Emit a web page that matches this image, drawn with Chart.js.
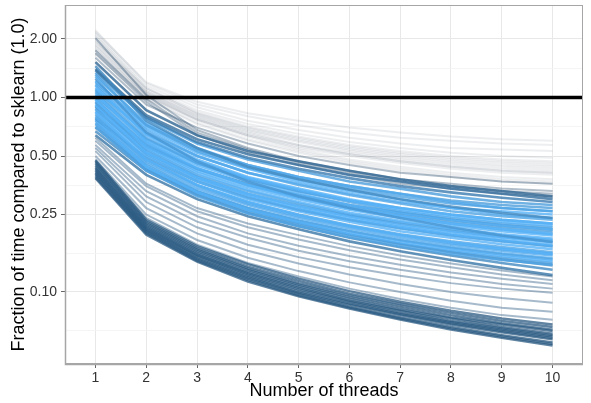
<!DOCTYPE html>
<html>
<head>
<meta charset="utf-8">
<script src="https://cdn.jsdelivr.net/npm/chart.js@4.4.1/dist/chart.umd.min.js"></script>
<style>
  html, body { margin: 0; padding: 0; background: #fff; }
</style>
</head>
<body>
<canvas id="timing" width="591" height="403"></canvas>
<script>
// x: number of threads, y: run time as a fraction of sklearn's time
const threads = [1, 2, 3, 4, 5, 6, 7, 8, 9, 10];
const xLimits = [0.4, 10.6];
const yLimits = [0.0426, 2.99];
const yMajor = [0.10, 0.25, 0.50, 1.00, 2.00];
const yMinor = [0.063, 0.158, 0.354, 0.707, 1.414];
const reference = 1.0;

// slow configurations (faint grey)
const greyRuns = [
  [2.22, 1.18, 0.92, 0.80, 0.72, 0.66, 0.62, 0.60, 0.58, 0.57],
  [2.18, 1.20, 0.95, 0.83, 0.76, 0.70, 0.66, 0.63, 0.61, 0.60],
  [2.15, 1.15, 0.89, 0.76, 0.68, 0.62, 0.58, 0.55, 0.54, 0.53],
  [2.10, 1.12, 0.86, 0.73, 0.65, 0.59, 0.55, 0.52, 0.50, 0.49],
  [2.06, 1.10, 0.84, 0.71, 0.63, 0.57, 0.53, 0.50, 0.48, 0.47],
  [2.02, 1.08, 0.82, 0.69, 0.61, 0.55, 0.51, 0.48, 0.46, 0.45],
  [1.98, 1.06, 0.80, 0.67, 0.59, 0.53, 0.49, 0.46, 0.44, 0.43],
  [1.95, 1.05, 0.79, 0.66, 0.57, 0.51, 0.47, 0.44, 0.42, 0.41],
  [1.92, 1.12, 0.83, 0.70, 0.62, 0.56, 0.52, 0.49, 0.47, 0.46],
  [1.88, 1.03, 0.77, 0.64, 0.55, 0.50, 0.46, 0.43, 0.41, 0.40],
  [1.85, 1.07, 0.81, 0.68, 0.60, 0.54, 0.50, 0.47, 0.45, 0.44],
  [1.82, 1.01, 0.76, 0.63, 0.54, 0.48, 0.44, 0.41, 0.39, 0.38],
  [1.78, 1.04, 0.78, 0.65, 0.57, 0.52, 0.48, 0.45, 0.43, 0.42],
  [1.74, 0.99, 0.74, 0.61, 0.53, 0.47, 0.43, 0.40, 0.38, 0.37],
  [1.70, 1.02, 0.77, 0.64, 0.56, 0.51, 0.47, 0.44, 0.42, 0.41],
  [1.66, 0.98, 0.73, 0.60, 0.52, 0.46, 0.42, 0.39, 0.37, 0.36]
];
const greyRunsDark = [
  [2.02, 1.03, 0.68, 0.55, 0.47, 0.42, 0.38, 0.36, 0.34, 0.33],
  [1.75, 0.98, 0.66, 0.54, 0.46, 0.41, 0.37, 0.35, 0.33, 0.32],
  [1.69, 0.95, 0.64, 0.52, 0.45, 0.40, 0.36, 0.34, 0.32, 0.31],
  [1.60, 0.92, 0.70, 0.58, 0.50, 0.45, 0.41, 0.39, 0.37, 0.36]
];

// main band (blue), with the mapped shade of each run
const blueRuns = [
  [1.52, 0.86, 0.64, 0.53, 0.47, 0.42, 0.38, 0.35, 0.33, 0.31],
  [1.45, 0.76, 0.55, 0.44, 0.38, 0.335, 0.30, 0.275, 0.255, 0.24],
  [1.40, 0.81, 0.61, 0.51, 0.45, 0.40, 0.37, 0.34, 0.32, 0.30],
  [1.38, 0.79, 0.59, 0.49, 0.43, 0.385, 0.35, 0.325, 0.305, 0.29],
  [1.34, 0.78, 0.58, 0.48, 0.42, 0.37, 0.34, 0.31, 0.29, 0.28],
  [1.31, 0.72, 0.53, 0.435, 0.38, 0.34, 0.31, 0.285, 0.27, 0.26],
  [1.28, 0.74, 0.55, 0.45, 0.39, 0.35, 0.32, 0.29, 0.27, 0.26],
  [1.25, 0.66, 0.47, 0.37, 0.31, 0.27, 0.24, 0.215, 0.195, 0.18],
  [1.22, 0.70, 0.52, 0.43, 0.37, 0.33, 0.30, 0.27, 0.26, 0.25],
  [1.20, 0.72, 0.54, 0.45, 0.39, 0.35, 0.32, 0.295, 0.28, 0.27],
  [1.17, 0.68, 0.50, 0.41, 0.36, 0.32, 0.29, 0.27, 0.25, 0.24],
  [1.15, 0.64, 0.47, 0.385, 0.335, 0.295, 0.265, 0.245, 0.23, 0.22],
  [1.12, 0.65, 0.48, 0.39, 0.34, 0.30, 0.27, 0.25, 0.235, 0.225],
  [1.10, 0.66, 0.50, 0.41, 0.355, 0.315, 0.285, 0.26, 0.245, 0.235],
  [1.08, 0.62, 0.46, 0.38, 0.33, 0.29, 0.26, 0.24, 0.225, 0.215],
  [1.06, 0.59, 0.435, 0.355, 0.305, 0.27, 0.245, 0.225, 0.21, 0.198],
  [1.04, 0.60, 0.45, 0.37, 0.32, 0.28, 0.255, 0.235, 0.22, 0.21],
  [1.02, 0.61, 0.46, 0.38, 0.33, 0.295, 0.27, 0.25, 0.235, 0.225],
  [1.00, 0.58, 0.43, 0.355, 0.31, 0.27, 0.245, 0.225, 0.21, 0.20],
  [0.98, 0.55, 0.41, 0.335, 0.29, 0.255, 0.232, 0.213, 0.198, 0.188],
  [0.97, 0.56, 0.42, 0.345, 0.30, 0.265, 0.24, 0.22, 0.205, 0.195],
  [0.95, 0.57, 0.43, 0.355, 0.31, 0.275, 0.25, 0.23, 0.215, 0.205],
  [0.94, 0.54, 0.40, 0.33, 0.285, 0.25, 0.228, 0.21, 0.195, 0.185],
  [0.92, 0.52, 0.385, 0.315, 0.27, 0.24, 0.216, 0.198, 0.185, 0.175],
  [0.91, 0.53, 0.39, 0.32, 0.275, 0.245, 0.22, 0.203, 0.19, 0.18],
  [0.90, 0.56, 0.43, 0.36, 0.315, 0.28, 0.255, 0.235, 0.22, 0.21],
  [0.88, 0.51, 0.38, 0.31, 0.265, 0.235, 0.212, 0.195, 0.182, 0.172],
  [0.87, 0.52, 0.39, 0.32, 0.278, 0.247, 0.224, 0.206, 0.192, 0.182],
  [0.85, 0.50, 0.37, 0.30, 0.26, 0.23, 0.205, 0.19, 0.176, 0.166],
  [0.84, 0.48, 0.355, 0.29, 0.248, 0.218, 0.196, 0.18, 0.167, 0.157],
  [0.82, 0.48, 0.355, 0.29, 0.25, 0.22, 0.198, 0.182, 0.17, 0.16],
  [0.80, 0.47, 0.35, 0.285, 0.245, 0.217, 0.195, 0.178, 0.166, 0.157],
  [0.79, 0.46, 0.34, 0.28, 0.24, 0.212, 0.19, 0.175, 0.163, 0.154],
  [0.78, 0.49, 0.37, 0.305, 0.265, 0.235, 0.213, 0.196, 0.183, 0.172],
  [0.77, 0.44, 0.325, 0.265, 0.228, 0.20, 0.18, 0.165, 0.153, 0.144],
  [0.76, 0.45, 0.33, 0.27, 0.232, 0.205, 0.184, 0.168, 0.156, 0.147],
  [0.74, 0.44, 0.33, 0.27, 0.233, 0.206, 0.185, 0.17, 0.158, 0.149],
  [0.73, 0.43, 0.32, 0.26, 0.224, 0.197, 0.177, 0.162, 0.15, 0.141],
  [0.71, 0.42, 0.31, 0.253, 0.218, 0.192, 0.172, 0.157, 0.146, 0.138],
  [0.70, 0.43, 0.325, 0.265, 0.226, 0.198, 0.177, 0.16, 0.147, 0.137],
  [0.67, 0.42, 0.315, 0.255, 0.218, 0.19, 0.17, 0.154, 0.141, 0.13],
  [0.64, 0.40, 0.30, 0.245, 0.21, 0.182, 0.162, 0.146, 0.133, 0.122]
];
const blueShade = [0.45, 0.7, 0.5, 0.6, 0.85, 0.9, 0.95, 0.8, 1.0, 0.85, 0.95, 1.0,
  1.0, 0.9, 0.9, 1.0, 1.0, 0.9, 0.95, 1.0, 1.0, 0.85, 0.9, 1.0, 1.0, 0.7,
  0.95, 0.9, 1.0, 1.0, 0.9, 0.95, 0.95, 0.75, 1.0, 0.9, 0.95, 0.85, 0.9,
  0.75, 0.7, 0.55];

// runs between the two bands (grey-blue)
const lowRuns = [
  [0.62, 0.36, 0.27, 0.225, 0.196, 0.172, 0.154, 0.14, 0.129, 0.12],
  [0.60, 0.35, 0.26, 0.215, 0.186, 0.164, 0.147, 0.134, 0.123, 0.115],
  [0.57, 0.33, 0.245, 0.20, 0.173, 0.153, 0.138, 0.126, 0.117, 0.11],
  [0.55, 0.31, 0.23, 0.19, 0.163, 0.144, 0.13, 0.119, 0.11, 0.104],
  [0.53, 0.29, 0.215, 0.175, 0.151, 0.134, 0.121, 0.111, 0.104, 0.099],
  [0.50, 0.27, 0.20, 0.163, 0.14, 0.123, 0.11, 0.10, 0.093, 0.088],
  [0.48, 0.25, 0.185, 0.15, 0.128, 0.112, 0.10, 0.09, 0.083, 0.079],
  [0.47, 0.24, 0.175, 0.141, 0.12, 0.104, 0.092, 0.083, 0.076, 0.072]
];

// fastest configurations (dark band)
const darkRuns = [
  [0.475, 0.235, 0.172, 0.139, 0.117, 0.101, 0.089, 0.08, 0.073, 0.068],
  [0.465, 0.23, 0.168, 0.135, 0.114, 0.098, 0.087, 0.078, 0.071, 0.066],
  [0.455, 0.226, 0.165, 0.132, 0.111, 0.096, 0.085, 0.076, 0.069, 0.064],
  [0.445, 0.222, 0.162, 0.13, 0.109, 0.094, 0.083, 0.074, 0.068, 0.063],
  [0.435, 0.218, 0.159, 0.127, 0.107, 0.092, 0.081, 0.073, 0.066, 0.061],
  [0.428, 0.215, 0.156, 0.125, 0.105, 0.09, 0.08, 0.071, 0.065, 0.06],
  [0.42, 0.212, 0.154, 0.123, 0.103, 0.089, 0.078, 0.07, 0.064, 0.059],
  [0.412, 0.209, 0.152, 0.121, 0.101, 0.087, 0.077, 0.069, 0.063, 0.058],
  [0.405, 0.206, 0.149, 0.119, 0.099, 0.086, 0.076, 0.068, 0.062, 0.057],
  [0.398, 0.203, 0.147, 0.117, 0.098, 0.084, 0.074, 0.066, 0.06, 0.055],
  [0.39, 0.20, 0.145, 0.115, 0.096, 0.083, 0.073, 0.065, 0.059, 0.054],
  [0.384, 0.197, 0.143, 0.113, 0.095, 0.082, 0.072, 0.064, 0.058, 0.053]
];

// ggplot-like gradient #132B43 -> #56B1F7
function shade(t, a) {
  const lo = [19, 43, 67], hi = [86, 177, 247];
  const c = lo.map((v, i) => Math.round(v + (hi[i] - v) * t));
  return `rgba(${c[0]},${c[1]},${c[2]},${a})`;
}

const toSet = (run, color, width) => ({
  data: run.map((y, i) => ({ x: threads[i], y })),
  borderColor: color, borderWidth: width,
  pointRadius: 0, tension: 0, fill: false
});

const datasets = [
  { data: xLimits.map(x => ({ x, y: reference })), borderColor: '#000', borderWidth: 3.5,
    pointRadius: 0, fill: false },
  ...darkRuns.map(r => toSet(r, shade(0.35, 0.75), 2.4)),
  ...lowRuns.map(r => toSet(r, shade(0.35, 0.42), 2)),
  ...blueRuns.map((r, i) => toSet(r, shade(blueShade[i], 0.8), 2.6)),
  ...greyRunsDark.map(r => toSet(r, shade(0.2, 0.35), 2)),
  ...greyRuns.map(r => toSet(r, shade(0, 0.08), 2))
];

const panelBorder = {
  id: 'panelBorder',
  afterDraw(chart) {
    const { ctx, chartArea: a } = chart;
    ctx.save();
    ctx.strokeStyle = '#a6a6a6';
    ctx.lineWidth = 1;
    ctx.strokeRect(a.left + 0.5, a.top + 0.5, a.right - a.left - 1, a.bottom - a.top - 1);
    ctx.lineWidth = 1.5;
    ctx.beginPath();
    ctx.moveTo(a.left + 0.5, a.top);
    ctx.lineTo(a.left + 0.5, a.bottom + 0.5);
    ctx.lineTo(a.right, a.bottom + 0.5);
    ctx.stroke();
    ctx.restore();
  }
};

const tickFont = { family: '"Liberation Sans", Arial, sans-serif', size: 14 };
const titleFont = { family: '"Liberation Sans", Arial, sans-serif', size: 18 };

new Chart(document.getElementById('timing'), {
  type: 'line',
  data: { datasets },
  plugins: [panelBorder],
  options: {
    responsive: false,
    animation: false,
    devicePixelRatio: 1,
    layout: { padding: { top: 5, right: 8, left: 0, bottom: 0 } },
    plugins: { legend: { display: false }, tooltip: { enabled: false } },
    scales: {
      x: {
        type: 'linear', min: xLimits[0], max: xLimits[1],
        afterBuildTicks: s => { s.ticks = threads.map(v => ({ value: v })); },
        afterFit: s => { s.height = 39; s.paddingLeft = 0; s.paddingRight = 0; },
        ticks: { font: tickFont, color: '#333', padding: 2, maxRotation: 0, autoSkip: false },
        grid: { color: '#e8e8e8', lineWidth: 1, tickColor: '#666', tickLength: 4 },
        border: { display: false },
        title: { display: true, text: 'Number of threads', font: titleFont, color: '#000',
                 padding: { top: 0, bottom: 1 } }
      },
      y: {
        type: 'logarithmic', min: yLimits[0], max: yLimits[1],
        afterBuildTicks: s => {
          s.ticks = [...yMinor, ...yMajor].sort((a, b) => a - b).map(v => ({ value: v }));
        },
        afterFit: s => { s.width = 65; s.paddingTop = 0; s.paddingBottom = 0; },
        ticks: {
          font: tickFont, color: '#333', padding: 4, autoSkip: false,
          callback: v => yMajor.includes(v) ? v.toFixed(2) : ''
        },
        grid: {
          color: c => yMajor.includes(c.tick.value) ? '#e8e8e8' : '#f3f3f3',
          lineWidth: c => yMajor.includes(c.tick.value) ? 1 : 0.8,
          tickColor: c => yMajor.includes(c.tick.value) ? '#666' : 'rgba(0,0,0,0)',
          tickLength: 4
        },
        border: { display: false },
        title: { display: true, text: 'Fraction of time compared to sklearn (1.0)', font: titleFont,
                 color: '#000', padding: { top: 8, bottom: 0 } }
      }
    }
  }
});
</script>
</body>
</html>
